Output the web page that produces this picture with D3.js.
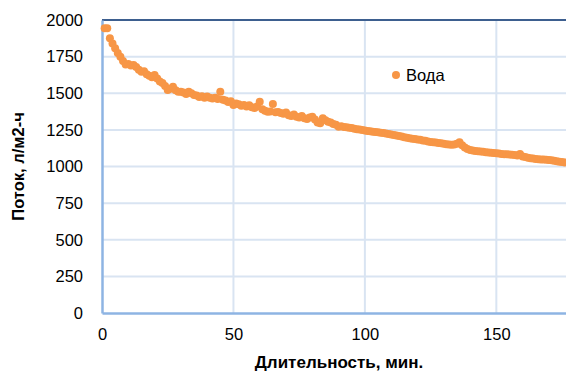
<!DOCTYPE html>
<html>
<head>
<meta charset="utf-8">
<script src="https://cdn.jsdelivr.net/npm/d3@7"></script>
<style>
  body { margin: 0; background: #fff; }
  svg { display: block; font-family: "Liberation Sans", Arial, sans-serif; }
</style>
</head>
<body>
<svg width="566" height="374"></svg>
<script>
// данные: поток воды по минутам (1..176 мин)
const seriesName = "Вода";
const flux = [
  1943, 1943, 1875, 1840, 1807, 1775, 1750, 1720, 1697, 1700,
  1690, 1693, 1680, 1660, 1647, 1650, 1630, 1620, 1610, 1625,
  1600, 1580, 1570, 1550, 1522, 1530, 1545, 1520, 1510, 1510,
  1505, 1495, 1510, 1500, 1488, 1485, 1475, 1480, 1470, 1477,
  1470, 1465, 1470, 1460, 1511, 1455, 1450, 1440, 1445, 1420,
  1430, 1425, 1415, 1420, 1410, 1418, 1405, 1400, 1410, 1442,
  1390, 1380, 1374, 1375, 1427, 1370, 1372, 1365, 1360, 1368,
  1350, 1345, 1355, 1340, 1335, 1345, 1330, 1325, 1335, 1340,
  1320, 1300, 1295, 1329, 1315, 1306, 1300, 1290, 1285, 1272,
  1275, 1270, 1268, 1265, 1262, 1258, 1255, 1252, 1249, 1245,
  1243, 1240, 1238, 1236, 1233, 1230, 1228, 1225, 1222, 1218,
  1215, 1212, 1208, 1205, 1200, 1196, 1192, 1190, 1188, 1185,
  1182, 1178, 1175, 1170, 1168, 1165, 1163, 1160, 1158, 1155,
  1152, 1150, 1148, 1150, 1155, 1165, 1145, 1130, 1120, 1113,
  1110, 1106, 1104, 1102, 1100, 1098, 1096, 1094, 1092, 1090,
  1088, 1086, 1084, 1083, 1082, 1080, 1078, 1075, 1085, 1068,
  1064, 1060, 1056, 1054, 1052, 1050, 1048, 1047, 1046, 1045,
  1042, 1040, 1035, 1033, 1030, 1028
];
const xTicks = [0, 50, 100, 150];
const yTicks = [0, 250, 500, 750, 1000, 1250, 1500, 1750, 2000];

const data = flux.map((v, i) => ({ t: i + 1, v: v }));

const svg = d3.select("svg");
const plotLeft = 102, plotRight = 566, plotTop = 20, plotBottom = 313;

const x = d3.scaleLinear().domain([0, 176.5]).range([plotLeft, plotRight]);
const y = d3.scaleLinear().domain([0, 2000]).range([plotBottom, plotTop]);

// сетка
svg.append("g")
   .selectAll("line")
   .data(yTicks.filter(d => d > 0 && d < 2000))
   .enter()
   .append("line")
   .attr("x1", plotLeft).attr("x2", plotRight)
   .attr("y1", d => y(d)).attr("y2", d => y(d))
   .attr("stroke", "#d9e4f2").attr("stroke-width", 2);

svg.append("g")
   .selectAll("line")
   .data(xTicks.filter(d => d > 0))
   .enter()
   .append("line")
   .attr("x1", d => x(d)).attr("x2", d => x(d))
   .attr("y1", plotTop).attr("y2", plotBottom)
   .attr("stroke", "#d9e4f2").attr("stroke-width", 2);

// верхняя рамка
svg.append("line")
   .attr("x1", plotLeft).attr("x2", plotRight)
   .attr("y1", y(2000)).attr("y2", y(2000))
   .attr("stroke", "#3d5f8f").attr("stroke-width", 2);

// оси
const yAxis = svg.append("g")
   .attr("transform", `translate(${plotLeft},0)`)
   .call(d3.axisLeft(y).tickValues(yTicks).tickFormat(d3.format("d")).tickSize(0).tickPadding(19));
yAxis.select(".domain").attr("stroke", "#8eb4e3").attr("stroke-width", 2.5);
yAxis.selectAll("text").style("font-size", "16.5px").attr("fill", "#000");

const xAxis = svg.append("g")
   .attr("transform", `translate(0,${plotBottom})`)
   .call(d3.axisBottom(x).tickValues(xTicks).tickFormat(d3.format("d")).tickSize(0).tickPadding(15));
xAxis.select(".domain").attr("stroke", "#8eb4e3").attr("stroke-width", 2.5);
xAxis.selectAll("text").style("font-size", "16.5px").attr("fill", "#000");

// точки
svg.append("g")
   .selectAll("circle")
   .data(data)
   .enter()
   .append("circle")
   .attr("cx", d => x(d.t))
   .attr("cy", d => y(d.v))
   .attr("r", 4)
   .attr("fill", "#f79646");

// подписи осей
svg.append("text")
   .attr("x", 339).attr("y", 368)
   .attr("text-anchor", "middle")
   .style("font-size", "17px").style("font-weight", "bold")
   .text("Длительность, мин.");

svg.append("text")
   .attr("transform", `translate(24,${(plotTop + plotBottom) / 2}) rotate(-90)`)
   .attr("text-anchor", "middle")
   .style("font-size", "16.5px").style("font-weight", "bold")
   .text("Поток, л/м2-ч");

// легенда
const legend = svg.append("g").attr("transform", "translate(396,75)");
legend.append("circle").attr("r", 4).attr("fill", "#f79646");
legend.append("text")
   .attr("x", 10).attr("y", 6)
   .style("font-size", "16.5px")
   .text(seriesName);
</script>
</body>
</html>
